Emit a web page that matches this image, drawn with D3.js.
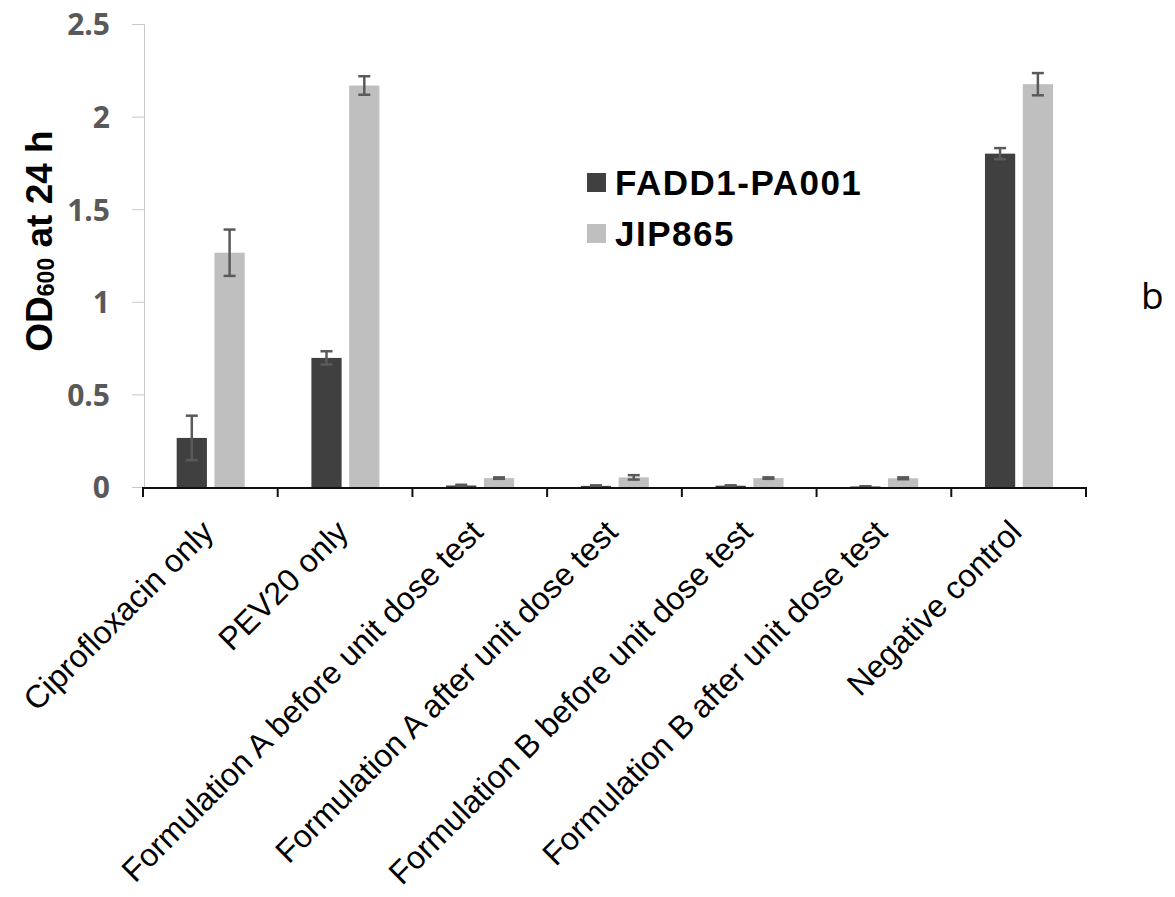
<!DOCTYPE html>
<html>
<head>
<meta charset="utf-8">
<script src="https://cdnjs.cloudflare.com/ajax/libs/d3/7.8.5/d3.min.js"></script>
<style>
  body { margin: 0; background: #fff; }
  svg { display: block; }
</style>
</head>
<body>
<div id="chart"></div>
<script>
var categories = ["Ciprofloxacin only", "PEV20 only",
    "Formulation A before unit dose test", "Formulation A after unit dose test",
    "Formulation B before unit dose test", "Formulation B after unit dose test",
    "Negative control"];
var series = ["FADD1-PA001", "JIP865"];
var fadd1_values = [0.265, 0.697, 0.008, 0.006, 0.007, 0.003, 1.80];
var fadd1_errors = [0.12, 0.036, 0.004, 0.003, 0.002, 0.001, 0.03];
var jip865_values = [1.265, 2.168, 0.048, 0.052, 0.048, 0.047, 2.175];
var jip865_errors = [0.125, 0.05, 0.004, 0.012, 0.004, 0.005, 0.06];
var y_ticks = [0, 0.5, 1, 1.5, 2, 2.5];
var y_tick_labels = ["0", "0.5", "1", "1.5", "2", "2.5"];

var width = 1175, height = 897;
var plot = { left: 143, right: 1086, top: 24, bottom: 487 };

var bar_color = d3.scaleOrdinal()
    .domain(series)
    .range(["#404040", "#bfbfbf"]);

var svg = d3.select("#chart").append("svg")
    .attr("width", width)
    .attr("height", height);

var x0 = d3.scaleBand()
    .domain(categories)
    .range([plot.left, plot.right])
    .padding(0);

var x1 = d3.scaleBand()
    .domain(series)
    .range([x0.bandwidth() * 0.25, x0.bandwidth() * 0.755])
    .paddingInner(0.2);

var y = d3.scaleLinear()
    .domain([0, 2.5])
    .range([plot.bottom, plot.top]);

var rows = categories.map(function (c, i) {
    return {
        name: c,
        vals: [
            { key: series[0], value: fadd1_values[i], err: fadd1_errors[i] },
            { key: series[1], value: jip865_values[i], err: jip865_errors[i] }
        ]
    };
});

// y axis (light, excel style)
var yAxis = svg.append("g")
    .attr("transform", "translate(" + (plot.left + 1) + ",0)")
    .call(d3.axisLeft(y).tickValues(y_ticks).tickSize(12).tickPadding(22)
        .tickFormat(function (d, i) { return y_tick_labels[i]; }));
yAxis.select(".domain").attr("stroke", "#c8c8c8").attr("stroke-width", 1);
yAxis.selectAll(".tick line").attr("stroke", "#c8c8c8").attr("stroke-width", 1);
yAxis.selectAll(".tick text")
    .attr("fill", "#595959")
    .style("font-family", "'Open Sans', sans-serif")
    .style("font-weight", "700")
    .style("font-size", "30px")
    .attr("dy", "0.36em");

// bars
var group = svg.selectAll(".group")
    .data(rows)
    .enter().append("g")
    .attr("class", "group")
    .attr("transform", function (d) { return "translate(" + x0(d.name) + ",0)"; });

group.selectAll("rect")
    .data(function (d) { return d.vals; })
    .enter().append("rect")
    .attr("x", function (d) { return x1(d.key); })
    .attr("y", function (d) { return y(d.value); })
    .attr("width", x1.bandwidth())
    .attr("height", function (d) { return y(0) - y(d.value); })
    .style("fill", function (d) { return bar_color(d.key); });

// error bars
var err = group.selectAll(".err")
    .data(function (d) { return d.vals; })
    .enter().append("g")
    .attr("class", "err")
    .attr("stroke", "#5a5a5a")
    .attr("stroke-width", 2.5);
err.append("line")
    .attr("x1", function (d) { return x1(d.key) + x1.bandwidth() / 2; })
    .attr("x2", function (d) { return x1(d.key) + x1.bandwidth() / 2; })
    .attr("y1", function (d) { return y(d.value + d.err); })
    .attr("y2", function (d) { return y(Math.max(0, d.value - d.err)); });
err.append("line")
    .attr("x1", function (d) { return x1(d.key) + x1.bandwidth() / 2 - 6; })
    .attr("x2", function (d) { return x1(d.key) + x1.bandwidth() / 2 + 6; })
    .attr("y1", function (d) { return y(d.value + d.err); })
    .attr("y2", function (d) { return y(d.value + d.err); });
err.append("line")
    .attr("x1", function (d) { return x1(d.key) + x1.bandwidth() / 2 - 6; })
    .attr("x2", function (d) { return x1(d.key) + x1.bandwidth() / 2 + 6; })
    .attr("y1", function (d) { return y(Math.max(0, d.value - d.err)); })
    .attr("y2", function (d) { return y(Math.max(0, d.value - d.err)); });

// x axis
var boundaries = categories.map(function (c) { return x0(c); }).concat([plot.right]);
var xAxis = svg.append("g");
xAxis.append("line")
    .attr("x1", plot.left)
    .attr("x2", plot.right + 1)
    .attr("y1", y(0) + 1)
    .attr("y2", y(0) + 1)
    .attr("stroke", "#111")
    .attr("stroke-width", 2);
xAxis.selectAll(".xtick")
    .data(boundaries)
    .enter().append("line")
    .attr("x1", function (d) { return d; })
    .attr("x2", function (d) { return d; })
    .attr("y1", y(0))
    .attr("y2", y(0) + 10)
    .attr("stroke", "#111")
    .attr("stroke-width", 2);

xAxis.selectAll(".xlabel")
    .data(categories)
    .enter().append("text")
    .attr("transform", function (d) {
        return "translate(" + (x0(d) + x0.bandwidth() / 2 + 5) + "," + (y(0) + 47) + ") rotate(-45)";
    })
    .attr("text-anchor", "end")
    .style("font-family", "'Liberation Sans', Arial, sans-serif")
    .style("font-size", "32px")
    .attr("fill", "#000")
    .text(function (d) { return d; });

// y title
var ytitle = svg.append("text")
    .attr("transform", "translate(52,241) rotate(-90)")
    .attr("text-anchor", "middle")
    .style("font-family", "'Liberation Sans', Arial, sans-serif")
    .style("font-weight", "700")
    .style("font-size", "37px")
    .attr("fill", "#000");
ytitle.append("tspan").text("OD");
ytitle.append("tspan").text("600").style("font-size", "23px").attr("dy", "2");
ytitle.append("tspan").text(" at 24 h").attr("dy", "-2");

// legend
var legend = svg.selectAll(".legend")
    .data(series)
    .enter().append("g")
    .attr("class", "legend")
    .attr("transform", function (d, i) { return "translate(587," + (173 + i * 51) + ")"; });
legend.append("rect")
    .attr("width", 19)
    .attr("height", 19)
    .style("fill", function (d) { return bar_color(d); });
legend.append("text")
    .attr("x", 28)
    .attr("y", 22)
    .style("font-family", "'Liberation Sans', Arial, sans-serif")
    .style("font-weight", "700")
    .style("font-size", "35px")
    .style("letter-spacing", "1.5px")
    .attr("fill", "#000")
    .text(function (d) { return d; });

// panel letter
svg.append("text")
    .attr("x", 1141)
    .attr("y", 309)
    .style("font-family", "'Open Sans', sans-serif")
    .style("font-size", "37px")
    .attr("fill", "#000")
    .text("b");
</script>
</body>
</html>
